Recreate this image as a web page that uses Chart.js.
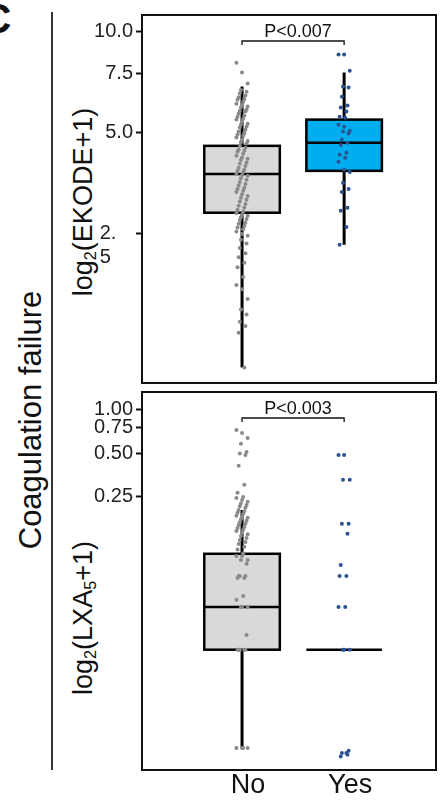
<!DOCTYPE html>
<html>
<head>
<meta charset="utf-8">
<script src="https://cdn.jsdelivr.net/npm/chart.js@4"></script>
<style>
  body { margin: 0; background: #fff; font-family: 'Liberation Sans', Arial, sans-serif; }
  #wrap { position: relative; width: 440px; height: 800px; overflow: hidden; color: #111; }
  canvas { position: absolute; left: 0; }
  .rot { position: absolute; transform: translate(-50%, -50%) rotate(-90deg); white-space: nowrap; line-height: 1; }
  .rot sub { font-size: 0.6em; vertical-align: -0.3em; line-height: 0; }
</style>
</head>
<body>
<div id="wrap">
  <div style="position:absolute;left:-19px;top:-5px;font-size:42px;font-weight:bold;">C</div>
  <div style="position:absolute;left:51px;top:12px;width:1.5px;height:758px;background:#333;"></div>
  <div class="rot" style="left:30px;top:420px;font-size:31px;">Coagulation failure</div>
  <div class="rot" style="left:83px;top:202px;font-size:27px;">log<sub>2</sub>(EKODE+1)</div>
  <div class="rot" style="left:83px;top:618px;font-size:27px;">log<sub>2</sub>(LXA<sub>5</sub>+1)</div>
  <canvas id="topChart" width="440" height="390" style="top:0"></canvas>
  <canvas id="bottomChart" width="440" height="412" style="top:388px"></canvas>
</div>
<script>
const groups = ['No', 'Yes'];

// EKODE panel
const ekodeTicks = [10, 7.5, 5, 2.5];
const ekodeTickText = ['10.0', '7.5', '5.0', '2.\n5'];
// [lower whisker, Q1, median, Q3, upper whisker]
const ekodeNoBox = [1.00, 2.89, 3.77, 4.57, 6.86];
const ekodeYesBox = [2.32, 3.85, 4.67, 5.47, 7.55];
const ekodeNo = [8.08, 7.55, 7.00, 6.70, 6.62, 6.55, 6.45, 6.38, 6.30, 6.27, 6.18, 6.10, 6.05, 5.98,
  5.94, 5.86, 5.80, 5.78, 5.70, 5.62, 5.58, 5.50, 5.47, 5.40, 5.32, 5.28, 5.22, 5.18, 5.10, 5.04,
  4.98, 4.94, 4.90, 4.84, 4.77, 4.72, 4.68, 4.64, 4.58, 4.51, 4.46, 4.42, 4.39, 4.33, 4.27, 4.22,
  4.18, 4.15, 4.08, 4.04, 3.98, 3.93, 3.88, 3.85, 3.82, 3.77, 3.74, 3.72, 3.66, 3.62, 3.57, 3.52,
  3.48, 3.43, 3.40, 3.36, 3.33, 3.28, 3.24, 3.20, 3.16, 3.12, 3.07, 3.03, 2.99, 2.95, 2.91, 2.88,
  2.85, 2.83, 2.80, 2.77, 2.75, 2.70, 2.68, 2.64, 2.61, 2.58, 2.54, 2.50, 2.47, 2.40, 2.34, 2.27,
  2.19, 2.13, 2.05, 1.99, 1.86, 1.76, 1.71, 1.60, 1.49, 1.44, 1.37, 1.33, 1.27, 1.00];
const ekodeYes = [8.54, 8.54, 7.65, 6.86, 6.81, 6.40, 6.02, 5.94, 5.78, 5.58, 5.54, 5.28, 5.21, 5.07,
  5.04, 4.97, 4.77, 4.67, 4.60, 4.36, 4.30, 4.21, 4.10, 3.88, 3.82, 3.55, 3.40, 3.33, 2.99, 2.93,
  2.62, 2.32];

// LXA5 panel
const lxaTicks = [1, 0.75, 0.5, 0.25];
const lxaTickText = ['1.00', '0.75', '0.50', '0.25'];
const lxaNoBox = [0.00458, 0.0219, 0.0433, 0.101, 0.203];
const lxaYesBox = [0.0219, 0.0219, 0.0219, 0.0219, 0.0219];
const lxaNo = [0.727, 0.693, 0.640, 0.582, 0.512, 0.500, 0.488, 0.410, 0.303, 0.267, 0.250, 0.246,
  0.238, 0.231, 0.225, 0.220, 0.215, 0.210, 0.203, 0.199, 0.194, 0.190, 0.185, 0.182, 0.179, 0.175,
  0.171, 0.167, 0.163, 0.160, 0.155, 0.152, 0.148, 0.145, 0.141, 0.138, 0.134, 0.130, 0.126, 0.122,
  0.118, 0.113, 0.108, 0.102, 0.0976, 0.0976, 0.0916, 0.0916, 0.0860, 0.0710, 0.0710, 0.0710,
  0.0687, 0.0687, 0.0516, 0.0485, 0.0433, 0.0433, 0.0433, 0.0277, 0.0219, 0.0219, 0.0219, 0.0219,
  0.0219, 0.00458, 0.00458, 0.00458, 0.00458];
const lxaYes = [0.488, 0.488, 0.328, 0.328, 0.163, 0.163, 0.139, 0.0846, 0.0710, 0.0710, 0.0433,
  0.0433, 0.0219, 0.0219, 0.0219, 0.00438, 0.00423, 0.00410, 0.00400, 0.00423];

const FONT = "'Liberation Sans', Arial, sans-serif";
const boxFills = ['#d9d9d9', '#00aeef'];
const dotColors = ['#8a8a8a', '#2b5391'];

// small horizontal spread so overlapping points stay visible
function spread(vals, gi) {
  return vals.map((v, i) => ({ x: gi + (((i * 5) % 11) - 5) * 0.011, y: v }));
}

function noPad(s) {
  s.paddingTop = 0; s.paddingBottom = 0; s.paddingLeft = 0; s.paddingRight = 0;
}

// boxes, whiskers, frame and p-value bracket
const boxPlugin = {
  id: 'boxes',
  beforeDatasetsDraw(chart, args, opts) {
    const { ctx, scales: { x, y } } = chart;
    ctx.save();
    opts.stats.forEach((s, gi) => {
      const xc = x.getPixelForValue(gi);
      const hw = x.getPixelForValue(gi + 0.37) - xc;
      const [lo, q1, med, q3, hi] = s.map(v => y.getPixelForValue(v));
      ctx.strokeStyle = '#000';
      ctx.lineWidth = 3;
      ctx.beginPath();
      if (s[4] > s[3]) { ctx.moveTo(xc, q3); ctx.lineTo(xc, hi); }
      if (s[0] < s[1]) { ctx.moveTo(xc, q1); ctx.lineTo(xc, lo); }
      ctx.stroke();
      ctx.lineWidth = 2.5;
      if (s[3] > s[1]) {
        ctx.fillStyle = boxFills[gi];
        ctx.fillRect(xc - hw, q3, hw * 2, q1 - q3);
        ctx.strokeRect(xc - hw, q3, hw * 2, q1 - q3);
      }
      ctx.beginPath();
      ctx.moveTo(xc - hw, med);
      ctx.lineTo(xc + hw, med);
      ctx.stroke();
    });
    ctx.restore();
  },
  afterDraw(chart, args, opts) {
    const { ctx, chartArea: a, scales: { x } } = chart;
    ctx.save();
    ctx.strokeStyle = '#111';
    ctx.lineWidth = 2;
    ctx.strokeRect(a.left, a.top, a.right - a.left, a.bottom - a.top);
    const x0 = x.getPixelForValue(0), x1 = x.getPixelForValue(1);
    const by = a.top + 26;
    ctx.lineWidth = 1.3;
    ctx.beginPath();
    ctx.moveTo(x0, by + 4); ctx.lineTo(x0, by); ctx.lineTo(x1, by); ctx.lineTo(x1, by + 4);
    ctx.stroke();
    ctx.fillStyle = '#111';
    ctx.font = '18px ' + FONT;
    ctx.textAlign = 'center';
    ctx.textBaseline = 'alphabetic';
    ctx.fillText(opts.pText, (x0 + x1) / 2 + 5, by - 4);
    ctx.restore();
  }
};

function makeChart(id, cfg) {
  return new Chart(document.getElementById(id), {
    type: 'scatter',
    data: {
      datasets: [
        { data: spread(cfg.no, 0), backgroundColor: dotColors[0], pointRadius: 2, borderWidth: 0 },
        { data: spread(cfg.yes, 1), backgroundColor: dotColors[1], pointRadius: 2, borderWidth: 0 }
      ]
    },
    options: {
      responsive: false,
      animation: false,
      devicePixelRatio: 1,
      layout: { padding: cfg.padding },
      scales: {
        x: {
          type: 'linear', min: -0.98, max: 1.9,
          display: cfg.showX,
          afterBuildTicks: s => { s.ticks = [{ value: 0 }, { value: 1 }]; },
          afterFit: s => { noPad(s); s.height = cfg.showX ? 30 : 0; },
          ticks: {
            callback: v => groups[v], font: { size: 27, family: FONT }, color: '#111',
            padding: -9, labelOffset: 6, maxRotation: 0, autoSkip: false
          },
          grid: { display: false },
          border: { display: false }
        },
        y: {
          type: 'logarithmic', min: cfg.min, max: cfg.max,
          afterBuildTicks: s => { s.ticks = cfg.ticks.map(v => ({ value: v })); },
          afterFit: s => { noPad(s); s.width = 142; },
          ticks: {
            autoSkip: false,
            callback: (v, i) => {
              const t = cfg.tickText[i];
              if (t.includes('\n')) {
                const parts = t.split('\n');
                return ['', parts[0] + '   ', parts[1] + '    '];
              }
              return t;
            },
            font: { size: 20, family: FONT }, color: '#222', padding: 3
          },
          grid: { drawOnChartArea: false, tickLength: 6, tickWidth: 2, tickColor: '#111' },
          border: { color: '#111', width: 2 }
        }
      },
      plugins: {
        legend: { display: false },
        tooltip: { enabled: false },
        boxes: { stats: cfg.stats, pText: cfg.pText }
      }
    },
    plugins: [boxPlugin]
  });
}

makeChart('topChart', {
  no: ekodeNo, yes: ekodeYes, stats: [ekodeNoBox, ekodeYesBox],
  ticks: ekodeTicks, tickText: ekodeTickText, min: 0.9, max: 11.2,
  pText: 'P<0.007', showX: false,
  padding: { top: 15, right: 1, bottom: 7, left: 0 }
});

makeChart('bottomChart', {
  no: lxaNo, yes: lxaYes, stats: [lxaNoBox, lxaYesBox],
  ticks: lxaTicks, tickText: lxaTickText, min: 0.00322, max: 1.33,
  pText: 'P<0.003', showX: true,
  padding: { top: 4, right: 1, bottom: 0, left: 0 }
});
</script>
</body>
</html>
